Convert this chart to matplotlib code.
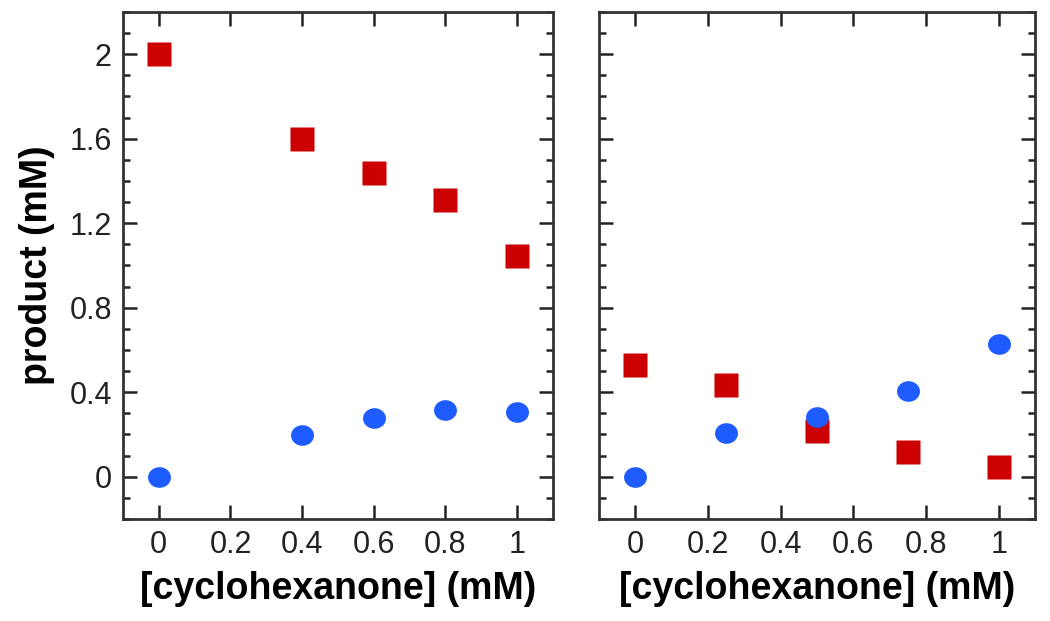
import numpy as np
import matplotlib.pyplot as plt
from matplotlib.path import Path
from matplotlib.ticker import MultipleLocator

plt.rcParams['font.family'] = ['Liberation Sans', 'DejaVu Sans']

# left panel
x_left = [0, 0.4, 0.6, 0.8, 1.0]
red_left = [2.0, 1.60, 1.436, 1.308, 1.045]
blue_left = [0.0, 0.199, 0.28, 0.318, 0.308]

# right panel
x_right = [0, 0.25, 0.5, 0.75, 1.0]
red_right = [0.53, 0.436, 0.218, 0.118, 0.047]
blue_right = [0.0, 0.209, 0.284, 0.408, 0.63]

xticks = [0, 0.2, 0.4, 0.6, 0.8, 1]
xticklabels = ['0', '0.2', '0.4', '0.6', '0.8', '1']
yticks = [0, 0.4, 0.8, 1.2, 1.6, 2]
yticklabels = ['0', '0.4', '0.8', '1.2', '1.6', '2']

RED = '#cc0000'
BLUE = '#1f5cff'

# slightly flattened circle marker
circ = Path.unit_circle()
ellipse = Path(circ.vertices * np.array([1.0, 0.9]), circ.codes)

fig = plt.figure(figsize=(10.5, 6.21), dpi=100)
ax1 = fig.add_axes([0.1171, 0.1643, 0.4095, 0.8164])
ax2 = fig.add_axes([0.5705, 0.1643, 0.4152, 0.8164])


def style(ax, show_ylabels):
    ax.set_xlim(-0.1, 1.1)
    ax.set_ylim(-0.2, 2.2)
    ax.set_xticks(xticks)
    ax.set_xticklabels(xticklabels)
    ax.set_yticks(yticks)
    ax.yaxis.set_minor_locator(MultipleLocator(0.1))
    if show_ylabels:
        ax.set_yticklabels(yticklabels)
    else:
        ax.set_yticklabels([])
    ax.tick_params(which='both', direction='in', top=True, right=True,
                   width=1.8, labelsize=22, colors='#222222')
    ax.tick_params(which='major', length=10, pad=8)
    ax.tick_params(which='minor', length=5)
    for s in ax.spines.values():
        s.set_linewidth(2)
        s.set_color('#333333')
    ax.set_xlabel('[cyclohexanone] (mM)', fontsize=27, fontweight='bold',
                  labelpad=8)


ax1.plot(x_left, red_left, 's', color=RED, ms=17.5, mec='none', clip_on=False)
ax1.plot(x_left, blue_left, ls='none', marker=ellipse, color=BLUE, ms=16.5,
         mec='none', clip_on=False)
style(ax1, True)
ax1.set_ylabel('product (mM)', fontsize=27, fontweight='bold', labelpad=10)

ax2.plot(x_right, red_right, 's', color=RED, ms=17.5, mec='none', clip_on=False)
ax2.plot(x_right, blue_right, ls='none', marker=ellipse, color=BLUE, ms=16.5,
         mec='none', clip_on=False)
style(ax2, False)

fig.savefig('out.png', dpi=100)
